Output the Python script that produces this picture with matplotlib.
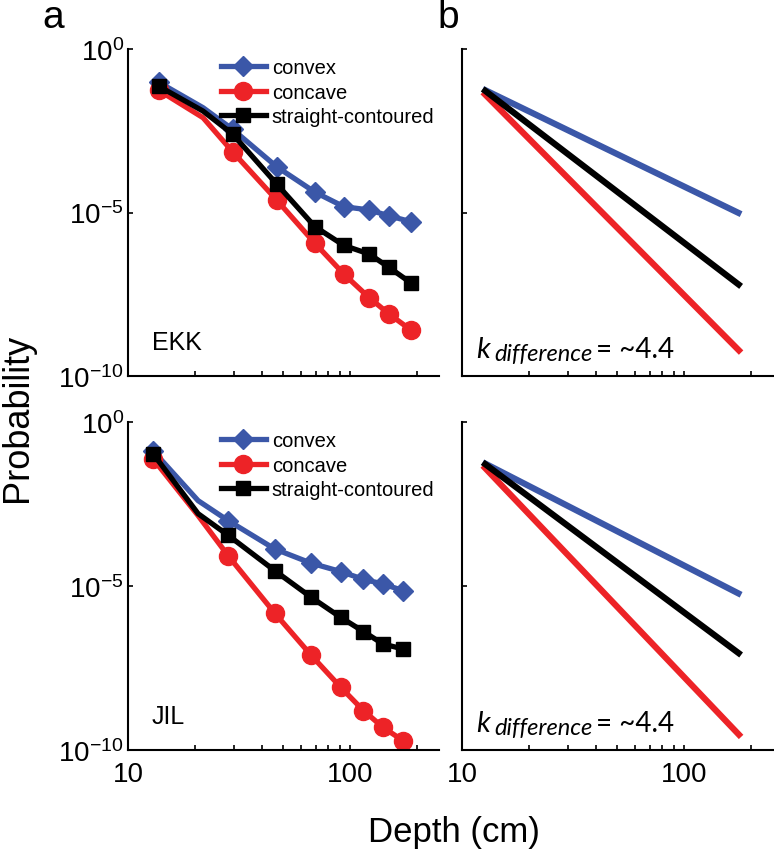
import numpy as np
import matplotlib
matplotlib.use('Agg')
import matplotlib.pyplot as plt

plt.rcParams['font.family'] = ['Liberation Sans', 'DejaVu Sans']

# colours
blue = '#3b57a8'
red = '#ed2327'
black = '#000000'

labels = ['convex', 'concave', 'straight-contoured']
subjects = ['EKK', 'JIL']

# measured data (panel a), depth in cm
depth_ekk = [13.8, 21.8, 29.6, 46.8, 69.5, 94, 122, 150, 189]
convex_ekk = [9.5e-2, 1.6e-2, 3.5e-3, 2.5e-4, 4.2e-5, 1.5e-5, 1.2e-5, 7.9e-6, 5.2e-6]
concave_ekk = [5.4e-2, 7.9e-3, 7.2e-4, 2.4e-5, 1.15e-6, 1.3e-7, 2.5e-8, 7.9e-9, 2.5e-9]
straight_ekk = [7.2e-2, 1.26e-2, 2.5e-3, 7.4e-5, 3.7e-6, 9.8e-7, 5.4e-7, 2.1e-7, 6.9e-8]

depth_jil = [13.0, 20.7, 28.3, 45.8, 66.7, 91, 115, 141, 174]
convex_jil = [1.3e-1, 4.0e-3, 9.8e-4, 1.35e-4, 5.0e-5, 2.75e-5, 1.6e-5, 1.15e-5, 7.2e-6]
concave_jil = [7.4e-2, 1.4e-3, 8.3e-5, 1.5e-6, 7.9e-8, 8.1e-9, 1.6e-9, 4.9e-10, 1.9e-10]
straight_jil = [1.06e-1, 1.6e-3, 3.5e-4, 2.95e-5, 4.6e-6, 1.1e-6, 4.1e-7, 1.7e-7, 1.2e-7]

# power-law fits (panel b)
fit_depth = [12.4, 181]
fit_convex_ekk = [6.0e-2, 8.9e-6]
fit_straight_ekk = [6.0e-2, 5.5e-8]
fit_concave_ekk = [4.8e-2, 5.2e-10]
fit_convex_jil = [5.9e-2, 5.4e-6]
fit_straight_jil = [5.9e-2, 7.9e-8]
fit_concave_jil = [4.7e-2, 2.5e-10]

k_text = '= ~4.4'
xtick_vals = [10, 100]
xtick_labels = ['10', '100']

fig = plt.figure(figsize=(7.74, 8.53), dpi=100)
W, H = 774, 853


def make_ax(x0, y0, x1, y1):
    return fig.add_axes([x0 / W, 1 - y1 / H, (x1 - x0) / W, (y1 - y0) / H])


ax_a1 = make_ax(128, 50, 439, 377)
ax_b1 = make_ax(462, 50, 773, 377)
ax_a2 = make_ax(128, 423, 439, 751)
ax_b2 = make_ax(462, 423, 773, 751)


def style(ax, xlabels, ylabels):
    ax.set_xscale('log')
    ax.set_yscale('log')
    ax.set_xlim(10, 252)
    ax.set_ylim(1e-10, 1)
    ax.set_yticks([1e-10, 1e-5, 1])
    ax.yaxis.set_minor_locator(matplotlib.ticker.NullLocator())
    ax.set_xticks(xtick_vals)
    ax.set_xticks([20, 30, 40, 50, 60, 70, 80, 90, 200], minor=True)
    ax.xaxis.set_minor_formatter(matplotlib.ticker.NullFormatter())
    if xlabels:
        ax.set_xticklabels(xtick_labels)
    else:
        ax.set_xticklabels([])
    if not ylabels:
        ax.set_yticklabels([])
    for s in ['top', 'right']:
        ax.spines[s].set_visible(False)
    for s in ['left', 'bottom']:
        ax.spines[s].set_linewidth(1.5)
    ax.tick_params(which='both', direction='in', length=3.5, width=1.2, labelsize=20)
    ax.tick_params(axis='y', pad=3)
    ax.tick_params(axis='x', pad=8)


mk = [0, 2, 3, 4, 5, 6, 7, 8]
for ax, d, cv, cc, st, name in [(ax_a1, depth_ekk, convex_ekk, concave_ekk, straight_ekk, subjects[0]),
                               (ax_a2, depth_jil, convex_jil, concave_jil, straight_jil, subjects[1])]:
    ax.plot(d, cv, color=blue, lw=3.8, marker='D', ms=10.5, markevery=mk, label=labels[0])
    ax.plot(d, cc, color=red, lw=3.8, marker='o', ms=13, markevery=mk, label=labels[1])
    ax.plot(d, st, color=black, lw=3.8, marker='s', ms=10, markevery=mk, label=labels[2])
    ax.legend(loc='upper left', bbox_to_anchor=(0.3, 0.972), frameon=False, fontsize=14.5,
              handlelength=2.2, handletextpad=0.3, labelspacing=0.27, borderpad=0,
              borderaxespad=0, numpoints=1)
    ax.text(0.077, 0.083, name, transform=ax.transAxes, fontsize=18)

for ax, cv, st, cc in [(ax_b1, fit_convex_ekk, fit_straight_ekk, fit_concave_ekk),
                       (ax_b2, fit_convex_jil, fit_straight_jil, fit_concave_jil)]:
    ax.plot(fit_depth, cv, color=blue, lw=4.5, solid_capstyle='butt')
    ax.plot(fit_depth, cc, color=red, lw=4.5, solid_capstyle='butt')
    ax.plot(fit_depth, st, color=black, lw=4.5, solid_capstyle='butt')
    ax.text(0.045, 0.058, 'k', transform=ax.transAxes, fontsize=21, style='italic',
            family=['Lato', 'DejaVu Sans'], va='baseline')
    ax.text(0.104, 0.05, 'difference', transform=ax.transAxes, fontsize=17, style='italic',
            family=['Lato', 'DejaVu Sans'], va='baseline')
    ax.text(0.43, 0.058, k_text, transform=ax.transAxes, fontsize=20,
            family=['Lato', 'DejaVu Sans'], va='baseline')

style(ax_a1, False, True)
style(ax_b1, False, False)
style(ax_a2, True, True)
style(ax_b2, True, False)

fig.text(53 / W, 1 - 28 / H, 'a', fontsize=28, ha='center', va='baseline')
fig.text(448 / W, 1 - 28 / H, 'b', fontsize=28, ha='center', va='baseline')
fig.text(454 / W, 1 - 833 / H, 'Depth (cm)', fontsize=25, ha='center', va='center')
fig.text(17 / W, 1 - 418 / H, 'Probability', fontsize=26, ha='center', va='center', rotation=90)

fig.savefig('out.png', dpi=100)
